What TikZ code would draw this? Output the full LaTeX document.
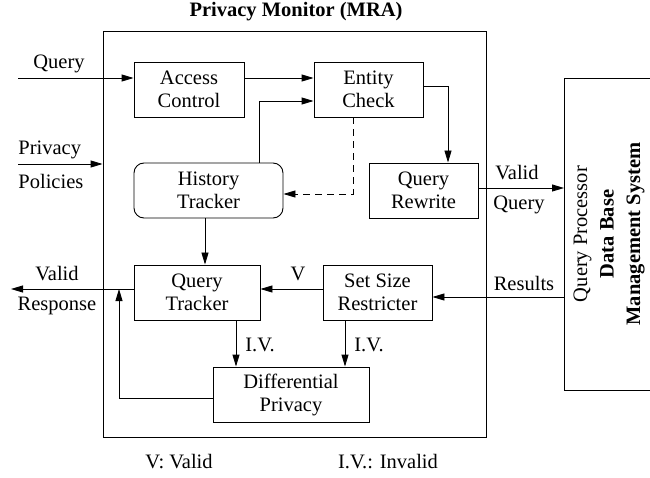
\documentclass[tikz,border=0pt]{standalone}
\usepackage{fontspec}
\setmainfont{Liberation Serif}
\usetikzlibrary{arrows.meta,positioning}
\tikzset{
	blk/.style={draw, minimum height=55, inner sep=0, align=center},
	lbl/.style={inner sep=0, align=center}
}

\begin{document}
\begin{tikzpicture}[x=1pt, y=-1pt, >={Triangle[length=12pt,width=7pt]},
line width=0.9pt, font=\fontsize{20.5}{23}\selectfont]
\useasboundingbox (0,0) rectangle (650,478);
% privacy monitor frame
\node[draw, minimum width=383, minimum height=406, inner sep=0] (mon) at (294.5, 234) {};
\node[lbl, font=\fontsize{20.5}{23}\selectfont\bfseries] (title) at (296, 12) {Privacy Monitor (MRA)};
% blocks
\node[blk, minimum width=110] (ac) at (189, 89.5) {Access\\Control};
\node[blk, minimum width=109] (ec) at (368.5, 89.5) {Entity\\Check};
\node[blk, minimum width=149, rounded corners=10] (ht) at (208.5, 190.5) {History\\Tracker};
\node[blk, minimum width=109] (qr) at (423.5, 190.5) {Query\\Rewrite};
\node[blk, minimum width=126] (qt) at (197, 292.5) {Query\\Tracker};
\node[blk, minimum width=109] (ssr) at (377.5, 292.5) {Set Size\\Restricter};
\node[blk, minimum width=156] (dp) at (291, 394.5) {Differential\\Privacy};
% dbms, open on the right
\node[minimum width=86, minimum height=312, inner sep=0, anchor=north west] (dbms) at (564, 78) {};
\draw (dbms.north east) -- (dbms.north west) -- (dbms.south west) -- (dbms.south east);
\node[lbl, rotate=90, font=\fontsize{20.5}{26.5}\selectfont] (dbtxt) at (609, 234) {Query Processor\\\textbf{Data Base}\\\textbf{Management System}};
% free ends
\coordinate (qin) at (18, 78);
\coordinate (ppin) at (18, 164);
\coordinate (vout) at (11, 289);
\coordinate (fb) at (119, 398);
% labels
\node[lbl] (lq) at (59, 64) {Query};
\node[lbl, anchor=west] (lp1) at (18, 150) {Privacy};
\node[lbl, anchor=west] (lp2) at (18, 181) {Policies};
\node[lbl] (lvq1) at (517, 173) {Valid};
\node[lbl] (lvq2) at (519, 205) {Query};
\node[lbl] (lvr1) at (57, 274) {Valid};
\node[lbl] (lvr2) at (57, 306) {Response};
\node[lbl] (lv) at (298, 274) {V};
\node[lbl] (lres) at (524, 283) {Results};
\node[lbl] (liv1) at (260, 345) {I.V.};
\node[lbl] (liv2) at (369, 345) {I.V.};
\node[lbl] (key1) at (179, 462) {V: Valid};
\node[lbl] (key2) at (388, 462) {I.V.: Invalid};
% connectors
\draw[->] (qin) -- (qin -| ac.west);
\draw[->] (qin -| ac.east) -- (qin -| ec.west);
\draw[->] (ppin) -- (ppin -| mon.west);
\draw[->] (ht.north -| 259,0) |- ([yshift=-11.5]ec.west);
\draw[->] ([yshift=3.5]ec.east) -| (448, 0 |- qr.north);
\draw[->, dash pattern=on 7pt off 5pt] (ec.south -| 353,0) |- ([yshift=-3.5]ht.east);
\draw[->] ([yshift=2.5]qr.east) -- ([yshift=2.5]qr.east -| dbms.west);
\draw[->] (ht.south -| 205,0) -- (qt.north -| 205,0);
\draw[->] ([yshift=-4.5]ssr.east -| dbms.west) -- ([yshift=-4.5]ssr.east);
\draw[->] ([yshift=3.5]ssr.west) -- ([yshift=3.5]qt.east);
\draw[->] ([yshift=3.5]qt.west) -- (vout);
\draw[->] (qt.south -| 236,0) -- (dp.north -| 236,0);
\draw[->] (ssr.south -| 345,0) -- (dp.north -| 345,0);
\draw[->] (fb -| dp.west) -- (fb) -- (fb |- vout);
\end{tikzpicture}
\end{document}
